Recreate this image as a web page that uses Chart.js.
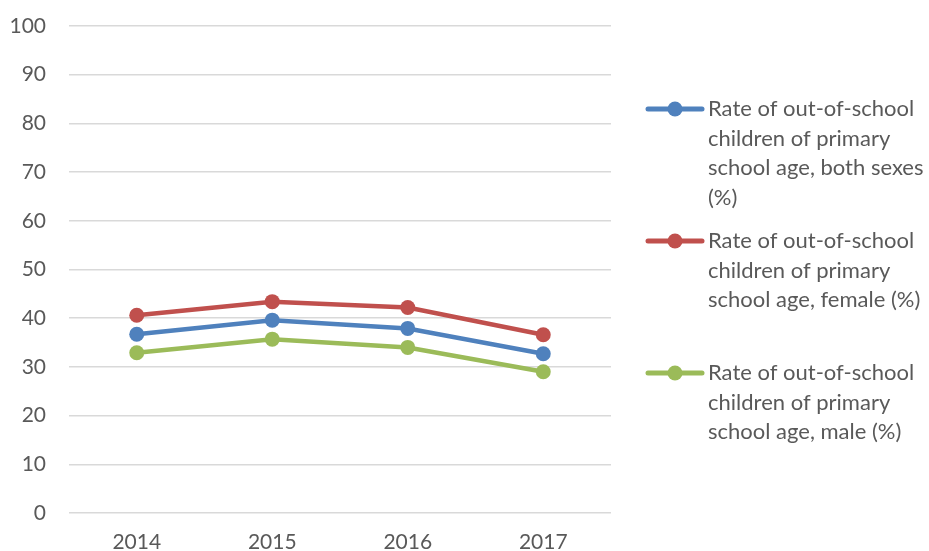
<!DOCTYPE html>
<html>
<head>
<meta charset="utf-8">
<script src="https://cdn.jsdelivr.net/npm/chart.js@4"></script>
<style>
  html, body { margin: 0; padding: 0; background: #fff; }
  #wrap { width: 929px; height: 551px; }
</style>
</head>
<body>
<div id="wrap"><canvas id="chart" width="929" height="551"></canvas></div>
<script>
// Out-of-school rates, primary school age
var years = ['2014', '2015', '2016', '2017'];
var bothSexes = [36.7, 39.6, 37.9, 32.7];
var female = [40.6, 43.4, 42.2, 36.6];
var male = [32.9, 35.7, 34.0, 29.0];

var seriesNames = [
  ['Rate of out-of-school', 'children of primary', 'school age, both sexes', '(%)'],
  ['Rate of out-of-school', 'children of primary', 'school age, female (%)'],
  ['Rate of out-of-school', 'children of primary', 'school age, male (%)']
];
var seriesColors = ['#4f81bd', '#c0504d', '#9bbb59'];

var FONT = 'Lato, "Open Sans", sans-serif';
var TEXT_COLOR = '#595959';

function makeSet(name, values, color) {
  return {
    label: name.join(' '),
    lines: name,
    data: values,
    borderColor: color,
    backgroundColor: color,
    borderWidth: 4.5,
    pointRadius: 7.5,
    pointHoverRadius: 7.5,
    pointBorderWidth: 0,
    tension: 0
  };
}

// legend on the right, one slot per series, text wrapped on several lines
var sideLegend = {
  id: 'sideLegend',
  afterDraw: function (chart) {
    var ctx = chart.ctx;
    var x0 = 648, x1 = 702, textX = 708;
    var firstY = 109, slot = 132, lineH = 29.5;
    ctx.save();
    chart.data.datasets.forEach(function (ds, i) {
      var y = firstY + i * slot;
      ctx.strokeStyle = ds.borderColor;
      ctx.lineWidth = 5;
      ctx.lineCap = 'round';
      ctx.beginPath();
      ctx.moveTo(x0, y);
      ctx.lineTo(x1, y);
      ctx.stroke();
      ctx.fillStyle = ds.borderColor;
      ctx.beginPath();
      ctx.arc((x0 + x1) / 2, y, 7.5, 0, Math.PI * 2);
      ctx.fill();
      ctx.fillStyle = TEXT_COLOR;
      ctx.font = '22px ' + FONT;
      ctx.textAlign = 'left';
      ctx.textBaseline = 'middle';
      ds.lines.forEach(function (line, k) {
        ctx.fillText(line, textX, y + k * lineH);
      });
    });
    ctx.restore();
  }
};

new Chart(document.getElementById('chart').getContext('2d'), {
  type: 'line',
  data: {
    labels: years,
    datasets: [
      makeSet(seriesNames[0], bothSexes, seriesColors[0]),
      makeSet(seriesNames[1], female, seriesColors[1]),
      makeSet(seriesNames[2], male, seriesColors[2])
    ]
  },
  options: {
    responsive: false,
    animation: false,
    layout: { padding: { top: 26, right: 318, bottom: 0, left: 0 } },
    plugins: {
      legend: { display: false },
      tooltip: { enabled: false }
    },
    scales: {
      x: {
        offset: true,
        grid: { display: false, drawTicks: false },
        border: { display: false },
        ticks: { color: TEXT_COLOR, font: { family: FONT, size: 21 }, padding: 17 },
        afterFit: function (axis) { axis.height = 38; }
      },
      y: {
        min: 0,
        max: 100,
        ticks: { stepSize: 10, color: TEXT_COLOR, font: { family: FONT, size: 21 }, padding: 23 },
        grid: { color: '#d9d9d9', lineWidth: 1.5, drawTicks: false },
        border: { display: false },
        afterFit: function (axis) {
          axis.width = 69;
          axis.paddingTop = 0;
          axis.paddingBottom = 0;
        }
      }
    }
  },
  plugins: [sideLegend]
});
</script>
</body>
</html>
